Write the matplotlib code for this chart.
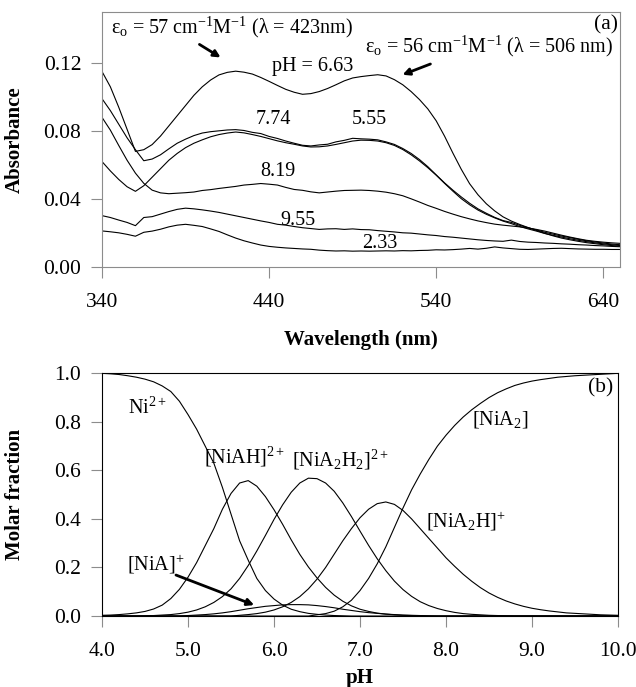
import numpy as np
import matplotlib
matplotlib.use('Agg')
import matplotlib.pyplot as plt

plt.rcParams['font.family'] = 'Liberation Serif'
plt.rcParams['mathtext.fontset'] = 'custom'
plt.rcParams['mathtext.rm'] = 'Liberation Serif'
plt.rcParams['mathtext.it'] = 'Liberation Serif:italic'
plt.rcParams['mathtext.bf'] = 'Liberation Serif:bold'

# ─── (a) absorption spectra, 340–650 nm every 5 nm ─────────────────────────
wavelength = np.arange(340, 651, 5)

abs_ph663 = [0.115, 0.106, 0.094, 0.081, 0.068, 0.069, 0.072, 0.077, 0.083, 0.089,
             0.095, 0.101, 0.106, 0.110, 0.113, 0.1145, 0.1152, 0.1146, 0.1135, 0.1115,
             0.1092, 0.1068, 0.1045, 0.1028, 0.1016, 0.1020, 0.1032, 0.1050, 0.1072, 0.1095,
             0.1112, 0.1120, 0.1126, 0.1131, 0.1124, 0.1102, 0.1072, 0.1032, 0.0985, 0.0930,
             0.0860, 0.0770, 0.0670, 0.0575, 0.0490, 0.0425, 0.0372, 0.0330, 0.0295, 0.0270,
             0.0250, 0.0232, 0.0215, 0.0198, 0.0183, 0.0170, 0.0160, 0.0151, 0.0143, 0.0137,
             0.0131, 0.0126, 0.0122]
abs_ph774 = [0.099, 0.092, 0.084, 0.076, 0.069, 0.0625, 0.0635, 0.066, 0.0695, 0.0728,
             0.0752, 0.0773, 0.0788, 0.0796, 0.0801, 0.0806, 0.0808, 0.0803, 0.0792, 0.0785,
             0.0768, 0.0756, 0.0741, 0.0728, 0.0716, 0.0712, 0.0718, 0.0722, 0.0736, 0.0745,
             0.0757, 0.0754, 0.0752, 0.0748, 0.0736, 0.0721, 0.0697, 0.0668, 0.0632, 0.0590,
             0.0542, 0.0495, 0.0452, 0.0412, 0.0375, 0.0342, 0.0316, 0.0292, 0.0273, 0.0262,
             0.0245, 0.0231, 0.0218, 0.0204, 0.0193, 0.0182, 0.0173, 0.0163, 0.0154, 0.0147,
             0.0141, 0.0135, 0.0131]
abs_ph555 = [0.062, 0.0565, 0.0515, 0.0472, 0.0445, 0.0478, 0.0528, 0.0578, 0.0628, 0.0668,
             0.0702, 0.0728, 0.0748, 0.0766, 0.0779, 0.0788, 0.0794, 0.0789, 0.0779, 0.0768,
             0.0755, 0.0742, 0.0731, 0.0722, 0.0712, 0.0706, 0.0707, 0.0712, 0.0721, 0.0731,
             0.0741, 0.0746, 0.0745, 0.0741, 0.0731, 0.0715, 0.0691, 0.0660, 0.0624, 0.0584,
             0.0540, 0.0492, 0.0446, 0.0402, 0.0366, 0.0335, 0.0310, 0.0289, 0.0270, 0.0255,
             0.0238, 0.0224, 0.0211, 0.0197, 0.0186, 0.0176, 0.0166, 0.0157, 0.0149, 0.0142,
             0.0136, 0.0131, 0.0126]
abs_ph819 = [0.088, 0.0805, 0.0715, 0.0628, 0.0552, 0.0492, 0.0452, 0.0436, 0.0431, 0.0434,
             0.0437, 0.0441, 0.0450, 0.0455, 0.0462, 0.0468, 0.0474, 0.0482, 0.0486, 0.0491,
             0.0487, 0.0482, 0.0468, 0.0456, 0.0451, 0.0442, 0.0436, 0.0441, 0.0446, 0.0450,
             0.0451, 0.0452, 0.0450, 0.0446, 0.0440, 0.0431, 0.0419, 0.0401, 0.0382, 0.0362,
             0.0345, 0.0327, 0.0311, 0.0296, 0.0283, 0.0271, 0.0261, 0.0252, 0.0246, 0.0241,
             0.0236, 0.0229, 0.0221, 0.0211, 0.0199, 0.0187, 0.0176, 0.0166, 0.0157, 0.0151,
             0.0146, 0.0142, 0.0139]
abs_ph955 = [0.0302, 0.0291, 0.0276, 0.0262, 0.0243, 0.0291, 0.0296, 0.0311, 0.0326, 0.0339,
             0.0346, 0.0342, 0.0336, 0.0329, 0.0321, 0.0311, 0.0301, 0.0291, 0.0281, 0.0271,
             0.0262, 0.0251, 0.0246, 0.0238, 0.0231, 0.0226, 0.0221, 0.0224, 0.0225, 0.0221,
             0.0224, 0.0220, 0.0219, 0.0214, 0.0210, 0.0206, 0.0201, 0.0199, 0.0194, 0.0189,
             0.0185, 0.0179, 0.0175, 0.0170, 0.0165, 0.0160, 0.0156, 0.0153, 0.0151, 0.0158,
             0.0150, 0.0146, 0.0144, 0.0141, 0.0139, 0.0136, 0.0134, 0.0131, 0.0129, 0.0126,
             0.0124, 0.0121, 0.0119]
abs_ph233 = [0.0212, 0.0207, 0.0201, 0.0192, 0.0181, 0.0204, 0.0211, 0.0222, 0.0236, 0.0246,
             0.0251, 0.0245, 0.0238, 0.0224, 0.0209, 0.0189, 0.0170, 0.0154, 0.0141, 0.0129,
             0.0121, 0.0116, 0.0112, 0.0109, 0.0106, 0.0104, 0.0099, 0.0096, 0.0094, 0.0095,
             0.0093, 0.0094, 0.0093, 0.0094, 0.0095, 0.0094, 0.0096, 0.0095, 0.0097, 0.0098,
             0.0101, 0.0100, 0.0102, 0.0105, 0.0109, 0.0105, 0.0110, 0.0118, 0.0112, 0.0108,
             0.0104, 0.0103, 0.0105, 0.0107, 0.0109, 0.0110, 0.0108, 0.0106, 0.0105, 0.0104,
             0.0104, 0.0103, 0.0103]
spectra = [abs_ph663, abs_ph774, abs_ph555, abs_ph819, abs_ph955, abs_ph233]

# ─── (b) species distribution, pH 4.0–10.0 every 0.1 ───────────────────────
ph = np.round(np.arange(4.0, 10.01, 0.1), 1)

frac_ni = ([1.000, 0.998, 0.995, 0.990, 0.984, 0.976, 0.965, 0.948, 0.925, 0.885,
            0.830, 0.770, 0.700, 0.630, 0.530, 0.420, 0.310, 0.230, 0.155, 0.105,
            0.070, 0.045, 0.028, 0.018, 0.011, 0.007, 0.004, 0.002, 0.001] + [0.0] * 32)
frac_niah = ([0.003, 0.004, 0.006, 0.009, 0.013, 0.019, 0.029, 0.045, 0.072, 0.110,
              0.160, 0.220, 0.290, 0.360, 0.440, 0.505, 0.548, 0.558, 0.535, 0.492,
              0.438, 0.378, 0.314, 0.254, 0.202, 0.157, 0.118, 0.086, 0.061, 0.042,
              0.028, 0.019, 0.012, 0.008, 0.005, 0.003, 0.002, 0.001] + [0.0] * 23)
frac_nia2h2 = ([0.0] * 5 +
               [0.001, 0.002, 0.004, 0.006, 0.010, 0.016, 0.025, 0.038, 0.056, 0.080,
                0.112, 0.155, 0.208, 0.268, 0.332, 0.398, 0.458, 0.510, 0.548, 0.568,
                0.566, 0.548, 0.514, 0.466, 0.410, 0.350, 0.291, 0.236, 0.187, 0.144,
                0.109, 0.081, 0.059, 0.043, 0.031, 0.022, 0.015, 0.010, 0.007, 0.005,
                0.003, 0.002, 0.001] + [0.0] * 13)
frac_nia2h = ([0.0] * 16 +
              [0.003, 0.006, 0.010, 0.016, 0.025, 0.038, 0.056, 0.080, 0.112, 0.152,
               0.200, 0.255, 0.310, 0.360, 0.405, 0.440, 0.463, 0.470, 0.460, 0.435,
               0.400, 0.360, 0.320, 0.280, 0.240, 0.205, 0.172, 0.143, 0.117, 0.095,
               0.077, 0.062, 0.050, 0.040, 0.032, 0.026, 0.021, 0.017, 0.013, 0.011,
               0.009, 0.007, 0.005, 0.004, 0.003])
frac_nia2 = ([0.0] * 25 +
             [0.005, 0.010, 0.020, 0.038, 0.065, 0.105, 0.155, 0.215, 0.285, 0.365,
              0.445, 0.520, 0.585, 0.645, 0.700, 0.745, 0.785, 0.820, 0.850, 0.876,
              0.900, 0.920, 0.936, 0.950, 0.960, 0.968, 0.974, 0.979, 0.984, 0.987,
              0.990, 0.992, 0.994, 0.996, 0.998, 1.000])
frac_nia = ([0.0] * 10 +
            [0.002, 0.004, 0.006, 0.009, 0.013, 0.018, 0.024, 0.030, 0.035, 0.040,
             0.043, 0.046, 0.047, 0.047, 0.046, 0.043, 0.039, 0.034, 0.028, 0.023,
             0.018, 0.014, 0.011, 0.008, 0.006, 0.004, 0.003, 0.002, 0.001] + [0.0] * 22)
species = [frac_ni, frac_niah, frac_nia2h2, frac_nia2h, frac_nia2, frac_nia]

TICK_FS = 15.5
ANN_FS = 14.5
LAB_FS = 15
GREY = '#8c8c8c'

fig = plt.figure(figsize=(6.36, 6.87), dpi=100)
ax1 = fig.add_axes([0.1604, 0.6114, 0.8144, 0.3711])
ax2 = fig.add_axes([0.1604, 0.1033, 0.8113, 0.3533])

# ── panel (a) ──────────────────────────────────────────────────────────────
for s in spectra:
    ax1.plot(wavelength, s, color='black', lw=0.8)

ax1.set_xlim(340, 650)
ax1.set_ylim(0, 0.15)
ax1.set_xticks([340, 440, 540, 640])
ax1.set_yticks([0.0, 0.04, 0.08, 0.12])
ax1.set_yticklabels(['0.00', '0.04', '0.08', '0.12'])
for sp in ax1.spines.values():
    sp.set_color(GREY)
    sp.set_linewidth(0.8)

ax1.set_xlabel('Wavelength (nm)', fontsize=LAB_FS, fontweight='bold', va='center')
ax1.xaxis.set_label_coords(0.5, -0.286)
ax1.set_ylabel('Absorbance', fontsize=LAB_FS, fontweight='bold', va='center')
ax1.yaxis.set_label_coords(-0.168, 0.5)

ax1.text(417.8, 0.1412, r'ε$_{\rm o}$ = 57 cm$^{-1}$M$^{-1}$ (λ = 423nm)',
         fontsize=ANN_FS, ha='center', va='center')
ax1.text(571.5, 0.1300, r'ε$_{\rm o}$ = 56 cm$^{-1}$M$^{-1}$ (λ = 506 nm)',
         fontsize=ANN_FS, ha='center', va='center')
ax1.annotate('', xy=(412.4, 0.1224), xytext=(396.9, 0.1318),
             arrowprops=dict(arrowstyle='-|>', lw=2, color='black', mutation_scale=10))
ax1.annotate('', xy=(518.3, 0.1125), xytext=(538.1, 0.1200),
             arrowprops=dict(arrowstyle='-|>', lw=2, color='black', mutation_scale=10))
ax1.text(466.3, 0.118, 'pH = 6.63', fontsize=ANN_FS, ha='center', va='center')
ax1.text(442.5, 0.0865, '7.74', fontsize=ANN_FS, ha='center', va='center')
ax1.text(500.0, 0.0865, '5.55', fontsize=ANN_FS, ha='center', va='center')
ax1.text(445.3, 0.0559, '8.19', fontsize=ANN_FS, ha='center', va='center')
ax1.text(457.3, 0.0276, '9.55', fontsize=ANN_FS, ha='center', va='center')
ax1.text(506.4, 0.0141, '2.33', fontsize=ANN_FS, ha='center', va='center')
ax1.text(641.6, 0.1425, '(a)', fontsize=ANN_FS + 1, ha='center', va='center')

# ── panel (b) ──────────────────────────────────────────────────────────────
for s in species:
    ax2.plot(ph, s, color='black', lw=0.8)

ax2.set_xlim(4, 10)
ax2.set_ylim(0, 1)
ax2.set_xticks(np.arange(4, 10.1, 1))
ax2.set_xticklabels([f'{v:.1f}' for v in np.arange(4, 10.1, 1)])
ax2.set_yticks(np.arange(0, 1.01, 0.2))
ax2.set_yticklabels([f'{v:.1f}' for v in np.arange(0, 1.01, 0.2)])
for sp in ax2.spines.values():
    sp.set_color('black')
    sp.set_linewidth(0.8)

ax2.set_xlabel('pH', fontsize=LAB_FS, fontweight='bold', va='center')
ax2.xaxis.set_label_coords(0.5, -0.255)
ax2.set_ylabel('Molar fraction', fontsize=LAB_FS, fontweight='bold', va='center')
ax2.yaxis.set_label_coords(-0.168, 0.5)

ax2.text(4.53, 0.857, r'Ni$^{2+}$', fontsize=ANN_FS, ha='center', va='center')
ax2.text(5.66, 0.655, r'[NiAH]$^{2+}$', fontsize=ANN_FS, ha='center', va='center')
ax2.text(6.77, 0.643, r'[NiA$_2$H$_2$]$^{2+}$', fontsize=ANN_FS, ha='center', va='center')
ax2.text(8.63, 0.808, r'[NiA$_2$]', fontsize=ANN_FS, ha='center', va='center')
ax2.text(8.23, 0.391, r'[NiA$_2$H]$^{+}$', fontsize=ANN_FS, ha='center', va='center')
ax2.text(4.63, 0.214, r'[NiA]$^{+}$', fontsize=ANN_FS, ha='center', va='center')
ax2.annotate('', xy=(5.80, 0.041), xytext=(4.83, 0.173),
             arrowprops=dict(arrowstyle='-|>', lw=2, color='black', mutation_scale=10))
ax2.text(9.80, 0.939, '(b)', fontsize=ANN_FS + 1, ha='center', va='center')

for ax in (ax1, ax2):
    ax.tick_params(axis='both', which='both', direction='out', length=8, width=0.8,
                   color=GREY, labelsize=TICK_FS, top=False, right=False)
    ax.tick_params(axis='y', pad=7)
    ax.tick_params(axis='x', pad=11)

fig.savefig('out.png', dpi=100)
